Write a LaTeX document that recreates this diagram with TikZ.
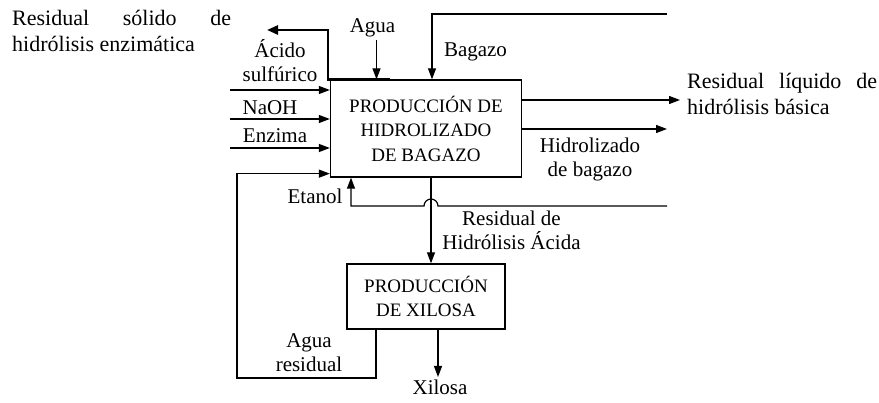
\documentclass[tikz,border=0pt]{standalone}
\usepackage{fontspec}
\setmainfont{Liberation Serif}
\usetikzlibrary{arrows.meta}
\begin{document}
\begin{tikzpicture}[x=1pt,y=-1pt,
  lbl/.style={font=\fontsize{21}{24}\selectfont, inner sep=0pt, align=center, anchor=base},
  tlbl/.style={font=\fontsize{22}{26}\selectfont, inner sep=0pt, align=left, anchor=base west},
  blk/.style={draw, line width=1.3pt, font=\fontsize{19}{24.5}\selectfont, align=center, inner sep=0pt},
  arr/.style={line width=1.2pt, -{Triangle[length=11pt,width=8pt]}},
  tarr/.style={line width=2.5pt, -{Triangle[length=11pt,width=9pt]}}
]
\useasboundingbox[fill=white] (0,0) rectangle (879,403);

\node[blk, minimum width=191pt, minimum height=97pt] (hb) at (426,128.5) {PRODUCCIÓN DE\\HIDROLIZADO\\DE BAGAZO};
\node[blk, minimum width=158pt, minimum height=65pt] (xs) at (426,296.5) {PRODUCCIÓN\\DE XILOSA};

\node[tlbl] (rs) at (12,52) {\makebox[219pt][s]{Residual sólido de}\\hidrólisis enzimática};
\node[tlbl] (rl) at (687,115) {\makebox[190pt][s]{Residual líquido de}\\hidrólisis básica};
\node[lbl] (agua) at (372.5,33) {Agua};
\node[lbl] (bag) at (475.5,57) {Bagazo};
\node[lbl] (as) at (280,82) {Ácido\\sulfúrico};
\node[lbl] (naoh) at (270,115) {NaOH};
\node[lbl] (enz) at (275,143) {Enzima};
\node[lbl] (etn) at (315,204) {Etanol};
\node[lbl] (hdb) at (590,177) {Hidrolizado\\de bagazo};
\node[lbl] (rha) at (511.5,250) {Residual de\\Hidrólisis Ácida};
\node[lbl] (ar) at (309,372) {Agua\\residual};
\node[lbl] (xil) at (440,395) {Xilosa};

\coordinate (tA) at (267,30);
\coordinate (ag0) at (376.5,40);
\coordinate (bg0) at (667,14);
\coordinate (i1) at (230,90);
\coordinate (i2) at (230,119);
\coordinate (i3) at (230,148);
\coordinate (lp) at (237,378);
\coordinate (et0) at (667,206);
\coordinate (xo) at (438,377);
\coordinate (o1) at (680,100);
\coordinate (o2) at (667,129);

\draw[tarr] ([xshift=60pt]hb.north west) -- ([xshift=-2pt]hb.north west) |- (tA);
\draw[arr] (ag0) -- (ag0 |- hb.north);
\draw[arr] (bg0) -| ([xshift=6pt]hb.north);
\draw[arr] (i1) -- (i1 -| hb.west);
\draw[arr] (i2) -- (i2 -| hb.west);
\draw[arr] (i3) -- (i3 -| hb.west);
\draw[arr] ([xshift=-50pt]xs.south) |- (lp) |- ([yshift=4pt]hb.south west);
\draw[arr] (et0) -- ([xshift=12pt]hb.south |- et0) arc[start angle=0,end angle=-180,radius=7] -| ([xshift=-75pt]hb.south);
\draw[arr] ([xshift=5pt]hb.south) -- ([xshift=5pt]xs.north);
\draw[arr] ([xshift=12pt]xs.south) -- (xo);
\draw[arr] (o1 -| hb.east) -- (o1);
\draw[arr] (o2 -| hb.east) -- (o2);
\end{tikzpicture}
\end{document}
